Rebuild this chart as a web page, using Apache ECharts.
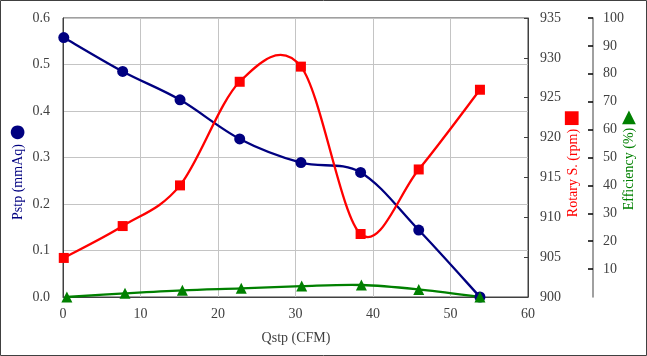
<!DOCTYPE html>
<html>
<head>
<meta charset="utf-8">
<script src="https://cdn.jsdelivr.net/npm/echarts@6/dist/echarts.min.js"></script>
<style>
html,body{margin:0;padding:0;background:#fff;}
#chart{width:647px;height:356px;}
</style>
</head>
<body>
<div id="chart"></div>
<script>
// Flow rate (CFM) for Pstp / Rotary speed points
const qstp = [0.1, 7.7, 15.1, 22.8, 30.7, 38.4, 45.9, 53.8];
// Flow rate (CFM) for efficiency points
const qstpEff = [0.5, 8.0, 15.4, 23.0, 30.8, 38.5, 45.9, 53.8];
// Static pressure (mmAq)
const pstp = [0.558, 0.485, 0.424, 0.340, 0.289, 0.268, 0.144, 0.0];
// Rotary speed (rpm)
const rpm = [904.9, 908.9, 914.0, 927.0, 928.9, 907.9, 916.0, 926.0];
// Efficiency (%)
const eff = [0.0, 1.3, 2.4, 3.1, 3.9, 4.3, 2.7, 0.0];

const xTitle = 'Qstp (CFM)';
const yLeftTitle = 'Pstp (mmAq)';
const yRpmTitle = 'Rotary S. (rpm)';
const yEffTitle = 'Efficiency (%)';

const pairs = (xs, ys) => xs.map((x, i) => [x, ys[i]]);

const FONT = 'Liberation Serif';
const labelStyle = {fontFamily: FONT, fontSize: 14, color: '#404040'};

// Smoothed curve (spreadsheet-style cardinal spline, tension 1/6) through
// the data points, positioned with the chart's own axes via api.coord.
function curveSeries(name, xs, ys, yAxisIndex, color) {
  return {
    name: name + ' curve', type: 'custom', yAxisIndex: yAxisIndex, silent: true,
    data: pairs(xs, ys), encode: {x: 0, y: 1}, z: 2,
    renderItem: function (params, api) {
      if (params.dataIndex !== 0) return null;
      const p = xs.map((x, k) => api.coord([x, ys[k]]));
      const n = p.length;
      const children = [];
      for (let i = 0; i < n - 1; i++) {
        const p0 = p[Math.max(i - 1, 0)], p1 = p[i], p2 = p[i + 1], p3 = p[Math.min(i + 2, n - 1)];
        children.push({
          type: 'bezierCurve',
          shape: {
            x1: p1[0], y1: p1[1], x2: p2[0], y2: p2[1],
            cpx1: p1[0] + (p2[0] - p0[0]) / 6, cpy1: p1[1] + (p2[1] - p0[1]) / 6,
            cpx2: p2[0] - (p3[0] - p1[0]) / 6, cpy2: p2[1] - (p3[1] - p1[1]) / 6
          },
          style: {stroke: color, lineWidth: 2.3, fill: null, lineCap: 'round', lineJoin: 'round'}
        });
      }
      return {type: 'group', children: children};
    }
  };
}

function markerSeries(name, xs, ys, yAxisIndex, symbol, size, color) {
  return {
    name: name, type: 'scatter', yAxisIndex: yAxisIndex, z: 3,
    data: pairs(xs, ys), symbol: symbol, symbolSize: size,
    itemStyle: {color: color, opacity: 1}
  };
}

const chart = echarts.init(document.getElementById('chart'), null, {renderer: 'canvas'});
chart.setOption({
  animation: false,
  backgroundColor: '#ffffff',
  grid: {
    left: 63, right: 119, top: 18, bottom: 59,
    show: true, borderColor: '#404040', borderWidth: 1, backgroundColor: 'transparent'
  },
  xAxis: {
    type: 'value', min: 0, max: 60, interval: 10,
    axisLine: {show: true, lineStyle: {color: '#404040', width: 1}},
    axisTick: {show: false},
    axisLabel: Object.assign({margin: 10}, labelStyle),
    splitLine: {show: true, lineStyle: {color: '#c4c4c4', width: 1}}
  },
  yAxis: [
    {
      type: 'value', min: 0, max: 0.6, interval: 0.1,
      axisLine: {show: true, lineStyle: {color: '#404040', width: 1}},
      axisTick: {show: false},
      axisLabel: Object.assign({margin: 13, formatter: v => v.toFixed(1)}, labelStyle),
      splitLine: {show: true, lineStyle: {color: '#c4c4c4', width: 1}}
    },
    {
      type: 'value', min: 900, max: 935, interval: 5, position: 'right',
      axisLine: {show: true, lineStyle: {color: '#404040', width: 1}},
      axisTick: {show: true, inside: true, length: 4, lineStyle: {color: '#404040'}},
      axisLabel: Object.assign({margin: 12}, labelStyle),
      splitLine: {show: false}
    },
    {
      type: 'value', min: 0, max: 100, interval: 10, position: 'right', offset: 65,
      axisLine: {show: true, lineStyle: {color: '#808080', width: 1.5}},
      axisTick: {show: true, inside: true, length: 5, lineStyle: {color: '#000000', width: 1.5}},
      axisLabel: Object.assign({margin: 10, showMinLabel: false}, labelStyle),
      splitLine: {show: false}
    }
  ],
  series: [
    curveSeries('Pstp', qstp, pstp, 0, '#000080'),
    markerSeries('Pstp', qstp, pstp, 0, 'circle', 11, '#000080'),
    curveSeries('Rotary S.', qstp, rpm, 1, '#ff0000'),
    markerSeries('Rotary S.', qstp, rpm, 1, 'rect', 10, '#ff0000'),
    curveSeries('Efficiency', qstpEff, eff, 2, '#008000'),
    markerSeries('Efficiency', qstpEff, eff, 2, 'triangle', 11, '#008000')
  ],
  graphic: [
    {type: 'rect', silent: true, shape: {x: 0.5, y: 0.5, width: 646, height: 355},
     style: {fill: 'none', stroke: '#404040', lineWidth: 1}},
    {type: 'text', x: 296, y: 338, silent: true,
     style: {text: xTitle, fill: '#404040', font: '14px "Liberation Serif"', textAlign: 'center', textVerticalAlign: 'middle', align: 'center', verticalAlign: 'middle'}},
    {type: 'text', x: 18, y: 182, rotation: Math.PI / 2, silent: true,
     style: {text: yLeftTitle, fill: '#000080', font: '14px "Liberation Serif"', textAlign: 'center', textVerticalAlign: 'middle', align: 'center', verticalAlign: 'middle'}},
    {type: 'text', x: 17.5, y: 132.5, silent: true,
     style: {text: '●', fill: '#000080', font: '18px "DejaVu Sans"', textAlign: 'center', textVerticalAlign: 'middle', align: 'center', verticalAlign: 'middle'}},
    {type: 'text', x: 573, y: 173, rotation: Math.PI / 2, silent: true,
     style: {text: yRpmTitle, fill: '#ff0000', font: '14px "Liberation Serif"', textAlign: 'center', textVerticalAlign: 'middle', align: 'center', verticalAlign: 'middle'}},
    {type: 'text', x: 571.5, y: 118, silent: true,
     style: {text: '■', fill: '#ff0000', font: '18px "DejaVu Sans"', textAlign: 'center', textVerticalAlign: 'middle', align: 'center', verticalAlign: 'middle'}},
    {type: 'text', x: 629, y: 169, rotation: Math.PI / 2, silent: true,
     style: {text: yEffTitle, fill: '#008000', font: '14px "Liberation Serif"', textAlign: 'center', textVerticalAlign: 'middle', align: 'center', verticalAlign: 'middle'}},
    {type: 'text', x: 629, y: 117.5, silent: true,
     style: {text: '▲', fill: '#008000', font: '18px "DejaVu Sans"', textAlign: 'center', textVerticalAlign: 'middle', align: 'center', verticalAlign: 'middle'}}
  ]
});
</script>
</body>
</html>
